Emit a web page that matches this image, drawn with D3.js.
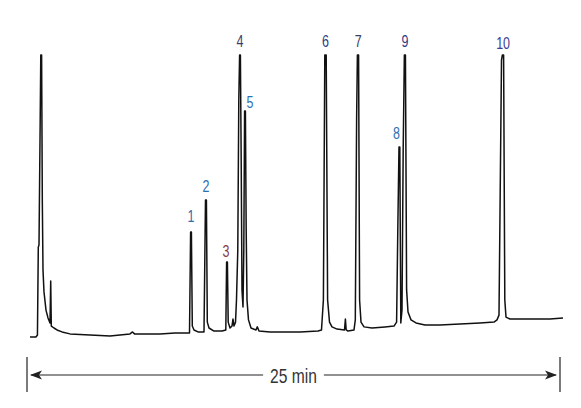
<html>
<script src='https://d3js.org/d3.v7.min.js'></script>
<style>
  body {margin: 0; background: #fff;}
  .trace {fill: none; stroke: #111; stroke-width: 1.5; stroke-linejoin: round;}
  .lbl {font-family: 'Liberation Sans', 'Roboto', sans-serif; font-size: 16px; text-anchor: middle;}
</style>
<body onload='init()'>
<svg width=581 height=408></svg>
<script>
// retention time (min) and detector signal (relative units)
var time = [0.14,0.42,0.49,0.53,0.563,0.619,0.647,0.685,0.718,0.750,0.797,0.891,0.985,1.079,1.112,1.140,1.266,1.407,1.642,2.017,
  2.955,3.893,4.831,4.948,5.042,6.238,6.942,7.622,7.674,7.711,7.753,7.833,8.021,8.302,8.372,8.415,8.457,8.537,8.771,9.146,
  9.325,9.362,9.400,9.437,9.522,9.615,9.662,9.709,9.780,9.826,9.887,9.934,9.972,10.009,10.047,10.084,10.131,10.169,10.206,10.244,
  10.281,10.319,10.389,10.507,10.741,10.802,10.882,11.398,12.805,13.649,13.813,13.902,13.968,14.034,14.100,14.189,14.306,14.540,14.892,14.934,
  14.972,15.056,15.338,15.399,15.460,15.497,15.553,15.600,15.666,15.807,16.182,16.792,17.214,17.336,17.392,17.448,17.486,17.533,17.589,17.645,
  17.700,17.750,17.805,17.871,18.011,18.246,18.668,19.371,20.310,21.248,21.904,22.045,22.139,22.256,22.298,22.355,22.411,22.467,22.655,23.593,
  24.531,25.141];
var signal = [-0.7,-0.7,0,31.4,32.1,76.8,100,100,48.2,23.2,15.4,8.9,6.1,4.3,19.3,3.2,2.5,1.8,1.1,0.4,
  0,-0.4,0.4,1.1,0.4,0.4,0.7,0.7,36.8,36.8,3.2,1.8,1.1,1.1,48.2,48.2,4.6,2.5,1.4,1.4,
  1.8,26.1,26.1,4.6,2.5,3.2,5.7,3.2,4.6,12.5,30.4,83.9,100,100,62.5,16.1,10.0,30.4,80.0,80.0,
  37.5,12.5,5.4,2.5,1.8,2.9,1.4,1.1,1.1,1.4,1.8,12.5,100,100,12.5,4.6,2.9,2.1,1.8,5.7,
  1.8,1.4,1.8,5.4,76.8,100,100,12.5,4.6,2.9,2.5,2.9,3.2,4.6,37.5,67.1,67.1,4.3,8.9,66.1,
  100,100,16.1,8.2,5.4,4.3,3.6,3.6,3.9,4.3,4.6,5.4,7.1,98.2,100,100,12.5,6.4,5.7,5.7,
  5.7,6.1];

// numbered peaks
var peakNames = ['1','2','3','4','5','6','7','8','9','10'];
var peakTimes = [7.69, 8.40, 9.38, 9.99, 10.22, 14.0, 15.53, 17.47, 17.73, 22.33];
var peakHeights = [36.8, 48.2, 26.1, 100, 80.0, 100, 100, 67.1, 100, 100];

var runLength = 25; // min

function init() {
  var svg = d3.select('svg');
  var xs = d3.scaleLinear().domain([0, runLength]).range([27, 560]);
  var ys = d3.scaleLinear().domain([0, 100]).range([335, 55]);

  var pts = time.map(function(t, i) { return [t, signal[i]]; });
  var line = d3.line().x(function(d) { return xs(d[0]); }).y(function(d) { return ys(d[1]); });

  svg.append('path').attr('class', 'trace').attr('d', line(pts));

  // label offsets (px) and colours
  var dx = [0, 0, -1, 0, 5, 0, 0, -3, 0, 0];
  var dy = [-10, -8, -5, -8, -3, -8, -8, -8, -8, -6];
  var cols = ['#2f6fae', '#2f6fae', '#8a3b3b', '#3a3d6e', '#2f6fae', '#2c3a86', '#3a3d5e', '#2f6fae', '#2c3a86', '#3b3f90'];
  var squeeze = 0.78;

  svg.selectAll('text.lbl').data(peakNames).enter().append('text')
    .attr('class', 'lbl')
    .attr('transform', function(d, i) {
      return 'translate(' + (xs(peakTimes[i]) + dx[i]) + ',' + (ys(peakHeights[i]) + dy[i]) + ') scale(' + squeeze + ',1)';
    })
    .attr('fill', function(d, i) { return cols[i]; })
    .text(function(d) { return d; });

  // 25 min span arrow
  var ay = 375, x0 = xs(0), x1 = xs(runLength), xm = (x0 + x1) / 2;
  var g = svg.append('g');
  g.append('line').attr('x1', x0).attr('x2', x0).attr('y1', 357).attr('y2', 392).attr('stroke', '#222').attr('stroke-width', 1.2);
  g.append('line').attr('x1', x1).attr('x2', x1).attr('y1', 357).attr('y2', 392).attr('stroke', '#222').attr('stroke-width', 1.2);
  var txt = g.append('text').attr('transform', 'translate(' + xm + ',383) scale(' + squeeze + ',1)')
    .attr('class', 'lbl').style('font-size', '20px').attr('fill', '#333').text(runLength + ' min');
  var hw = txt.node().getBBox().width * squeeze / 2;
  g.append('line').attr('x1', x0 + 4).attr('x2', xm - hw - 7).attr('y1', ay).attr('y2', ay).attr('stroke', '#222').attr('stroke-width', 1);
  g.append('line').attr('x1', xm + hw + 7).attr('x2', x1 - 4).attr('y1', ay).attr('y2', ay).attr('stroke', '#222').attr('stroke-width', 1);
  g.append('path').attr('d', 'M' + (x0 + 3) + ',' + ay + 'l12,-4.5l-3,4.5l3,4.5z').attr('fill', '#222');
  g.append('path').attr('d', 'M' + (x1 - 3) + ',' + ay + 'l-12,-4.5l3,4.5l-3,4.5z').attr('fill', '#222');
}
</script>
</body>
</html>
